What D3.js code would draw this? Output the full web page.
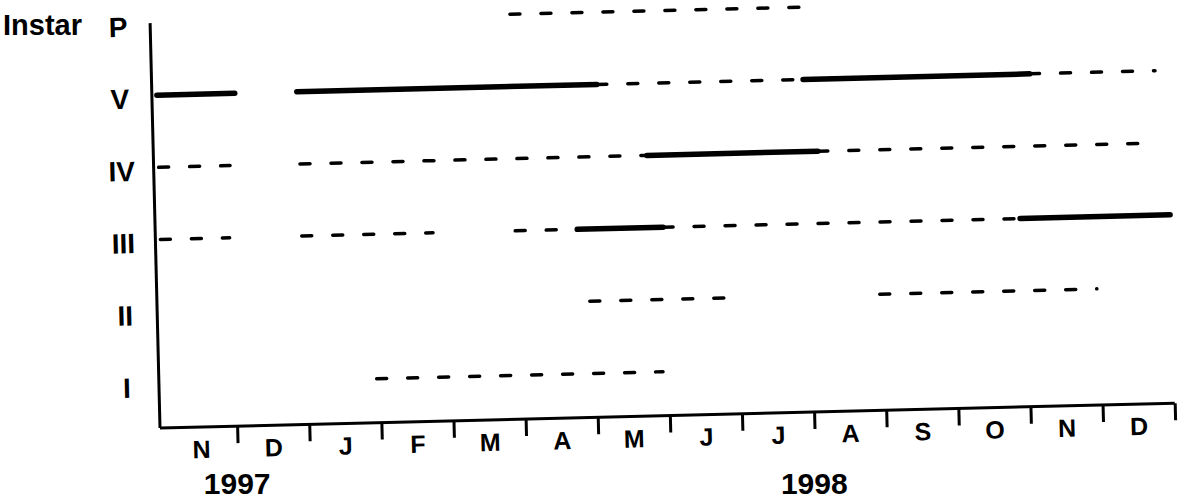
<!DOCTYPE html>
<html>
<head>
<meta charset="utf-8">
<script src="https://cdn.jsdelivr.net/npm/d3@7"></script>
<style>
  html, body { margin: 0; padding: 0; background: #fff; }
  svg { display: block; }
  text { font-family: "Liberation Sans", Arial, sans-serif; font-weight: bold; fill: #000; }
</style>
</head>
<body>
<svg id="chart" width="1179" height="502"></svg>
<script>
// ---- data ----
const months = ["N","D","J","F","M","A","M","J","J","A","S","O","N","D"];
const years = ["1997","1998"];
const yearAtMonth = [1, 9];
const instars = ["I","II","III","IV","V","P"];
const yTitle = "Instar";

// segments per instar: [fromMonth, toMonth, style]; month 0 = start of Nov 1997
const rowP   = [[4.92, 9.01, "dashed"]];
const rowV   = [[0, 1.08, "solid"], [1.94, 6.1, "solid"], [6.1, 8.96, "dashed"], [8.96, 12.1, "solid"], [12.1, 13.84, "dashed"]];
const rowIV  = [[0, 0.99, "dashed"], [1.96, 6.77, "dashed"], [6.77, 9.14, "solid"], [9.14, 13.79, "dashed"]];
const rowIII = [[0, 0.96, "dashed"], [1.96, 3.78, "dashed"], [4.92, 5.78, "dashed"], [5.78, 6.97, "solid"], [6.97, 11.92, "dashed"], [11.92, 14, "solid"]];
const rowII  = [[5.93, 7.8, "dashed"], [9.95, 12.96, "dashed"]];
const rowI   = [[2.95, 6.92, "dashed"]];

const rows = { "P": rowP, "V": rowV, "IV": rowIV, "III": rowIII, "II": rowII, "I": rowI };
const segments = [];
Object.keys(rows).forEach(k => rows[k].forEach(s => segments.push({ instar: k, from: s[0], to: s[1], style: s[2] })));

// ---- layout ----
const svg = d3.select("#chart");
const origin = [160, 428];
const tilt = -1.4;
const axisLen = 1015;

const x = d3.scaleLinear().domain([0, months.length]).range([5, axisLen]);
const y = d3.scalePoint().domain(instars).range([-44, -405]);

const g = svg.append("g").attr("transform", `translate(${origin[0]},${origin[1]}) rotate(${tilt})`);

// axes lines
g.append("line").attr("x1", 0).attr("y1", 0).attr("x2", axisLen).attr("y2", 0)
  .attr("stroke", "#000").attr("stroke-width", 3);
g.append("line").attr("x1", 0).attr("y1", 0).attr("x2", 0).attr("y2", y("P"))
  .attr("stroke", "#000").attr("stroke-width", 3);

// x ticks (month boundaries)
const xAxis = d3.axisBottom(x).tickValues(d3.range(1, months.length + 1)).tickSize(17).tickSizeOuter(0).tickFormat("");
const ax = g.append("g").call(xAxis);
ax.select(".domain").remove();
ax.selectAll(".tick line").attr("stroke", "#000").attr("stroke-width", 3);

// month labels
g.selectAll("text.month").data(months).join("text")
  .attr("class", "month")
  .attr("x", (d, i) => x(i + 0.5))
  .attr("y", 31)
  .attr("text-anchor", "middle")
  .attr("font-size", 25)
  .text(d => d);

// instar labels
g.selectAll("text.instar").data(instars).join("text")
  .attr("class", "instar")
  .attr("x", -32)
  .attr("y", d => y(d) + 13)
  .attr("text-anchor", "middle")
  .attr("font-size", 28)
  .text(d => d);

// segments
g.selectAll("line.seg").data(segments).join("line")
  .attr("class", "seg")
  .attr("x1", d => Math.max(x(d.from), 0))
  .attr("x2", d => x(d.to))
  .attr("y1", d => y(d.instar))
  .attr("y2", d => y(d.instar))
  .attr("stroke", "#000")
  .attr("stroke-linecap", "round")
  .attr("stroke-width", d => d.style === "solid" ? 5.5 : 3.5)
  .attr("stroke-dasharray", d => d.style === "solid" ? null : "10 21");

// year labels (screen space)
svg.selectAll("text.year").data(years).join("text")
  .attr("class", "year")
  .attr("x", (d, i) => origin[0] + x(yearAtMonth[i]))
  .attr("y", 494)
  .attr("text-anchor", "middle")
  .attr("font-size", 30)
  .text(d => d);

// y title
svg.append("text").attr("x", 3).attr("y", 35).attr("font-size", 29).text(yTitle);
</script>
</body>
</html>
